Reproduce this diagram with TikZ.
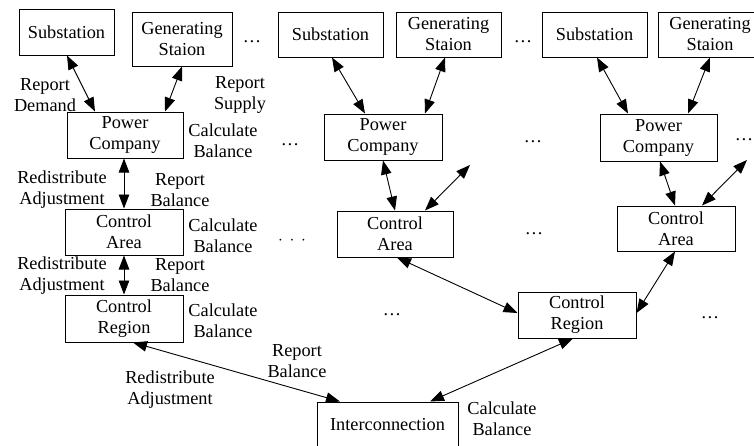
\documentclass[tikz,border=0pt]{standalone}
\usepackage{fontspec}
\setmainfont{Liberation Serif}
\usetikzlibrary{arrows.meta}
\newcommand{\fs}{\fontsize{18.3}{21}\selectfont}
\tikzset{
  box/.style={draw, line width=1pt, inner sep=0pt, align=center, font=\fs},
  lbl/.style={inner sep=0pt, align=center, font=\fs},
  link/.style={line width=0.9pt, {Triangle[length=14pt,width=10.5pt]}-{Triangle[length=14pt,width=10.5pt]}}
}
\begin{document}
\begin{tikzpicture}[x=1pt,y=-1pt]
\useasboundingbox (0,0) rectangle (754,445);
% left column
\node[box, minimum width=95pt, minimum height=46pt] (sub1) at (66.5,32) {Substation};
\node[box, minimum width=100pt, minimum height=54pt] (gen1) at (182,39) {Generating\\Staion};
\node[box, minimum width=116pt, minimum height=46pt] (pc1) at (125,135) {Power\\Company};
\node[box, minimum width=118pt, minimum height=46pt] (ca1) at (124,232) {Control\\Area};
\node[box, minimum width=118pt, minimum height=47pt] (cr1) at (124,318.5) {Control\\Region};
% middle column
\node[box, minimum width=105pt, minimum height=45pt] (sub2) at (330.5,34.5) {Substation};
\node[box, minimum width=105pt, minimum height=45pt] (gen2) at (448.5,34.5) {Generating\\Staion};
\node[box, minimum width=118pt, minimum height=46pt] (pc2) at (383,137) {Power\\Company};
\node[box, minimum width=116pt, minimum height=46pt] (ca2) at (395,234) {Control\\Area};
% right column
\node[box, minimum width=105pt, minimum height=45pt] (sub3) at (594.5,34.5) {Substation};
\node[box, minimum width=104pt, minimum height=45pt] (gen3) at (710,34.5) {Generating\\Staion};
\node[box, minimum width=117pt, minimum height=47pt] (pc3) at (658.5,137.5) {Power\\Company};
\node[box, minimum width=118pt, minimum height=45pt] (ca3) at (676,228.5) {Control\\Area};
\node[box, minimum width=118pt, minimum height=46pt] (cr2) at (577,315) {Control\\Region};
% interconnection
\node[box, minimum width=141pt, minimum height=46pt] (ic) at (387.5,425) {Interconnection};
% free ends
\coordinate (f2) at (470,165);
\coordinate (f3) at (747,160);
% connectors left
\draw[link] ([xshift=0.5pt]sub1.south) -- ([xshift=-30pt]pc1.north);
\draw[link] (gen1.south) -- ([xshift=40pt]pc1.north);
\draw[link] ([xshift=-1pt]pc1.south) -- (ca1.north);
\draw[link] (ca1.south) -- (cr1.north);
\draw[link] ([xshift=9pt]cr1.south) -- ([xshift=-47.5pt]ic.north);
% connectors middle
\draw[link] ([xshift=1.5pt]sub2.south) -- ([xshift=-18pt]pc2.north);
\draw[link] ([xshift=-3.5pt]gen2.south) -- ([xshift=42pt]pc2.north);
\draw[link] (pc2.south) -- (ca2.north);
\draw[link] ([xshift=30pt]ca2.north) -- (f2);
\draw[link] ([xshift=2pt]ca2.south) -- ([yshift=2pt]cr2.west);
% connectors right
\draw[link] ([xshift=2.5pt]sub3.south) -- ([xshift=-30.5pt]pc3.north);
\draw[link] (gen3.south) -- ([xshift=29.5pt]pc3.north);
\draw[link] ([xshift=1.5pt]pc3.south) -- ([xshift=-1pt]ca3.north);
\draw[link] ([xshift=26pt]ca3.north) -- (f3);
\draw[link] ([xshift=-1pt]ca3.south) -- ([yshift=2pt]cr2.east);
\draw[link] ([xshift=-4pt]cr2.south) -- ([xshift=42.5pt]ic.north);
% labels
\node[lbl] (l1) at (45,95) {Report\\Demand};
\node[lbl] (l2) at (240,95) {Report\\Supply};
\node[lbl] (l3) at (223,141) {Calculate\\Balance};
\node[lbl] (l4) at (62,190) {Redistribute\\Adjustment};
\node[lbl] (l5) at (180,190) {Report\\Balance};
\node[lbl] (l6) at (223,235.5) {Calculate\\Balance};
\node[lbl] (l7) at (62,275.5) {Redistribute\\Adjustment};
\node[lbl] (l8) at (180,275.5) {Report\\Balance};
\node[lbl] (l9) at (223,321) {Calculate\\Balance};
\node[lbl] (l10) at (297,361.5) {Report\\Balance};
\node[lbl] (l11) at (170,389.5) {Redistribute\\Adjustment};
\node[lbl] (l12) at (502,418.5) {Calculate\\Balance};
% dots
\node[lbl] (d1) at (252,42) {…};
\node[lbl] (d2) at (290,145) {…};
\node[lbl] (d3) at (292,241) {$\cdot\,\cdot\,\cdot$};
\node[lbl] (d4) at (523,42) {…};
\node[lbl] (d5) at (533,142) {…};
\node[lbl] (d6) at (534,234) {…};
\node[lbl] (d7) at (392,315) {…};
\node[lbl] (d8) at (710,318) {…};
\node[lbl] (d9) at (744,140) {…};
\end{tikzpicture}
\end{document}
